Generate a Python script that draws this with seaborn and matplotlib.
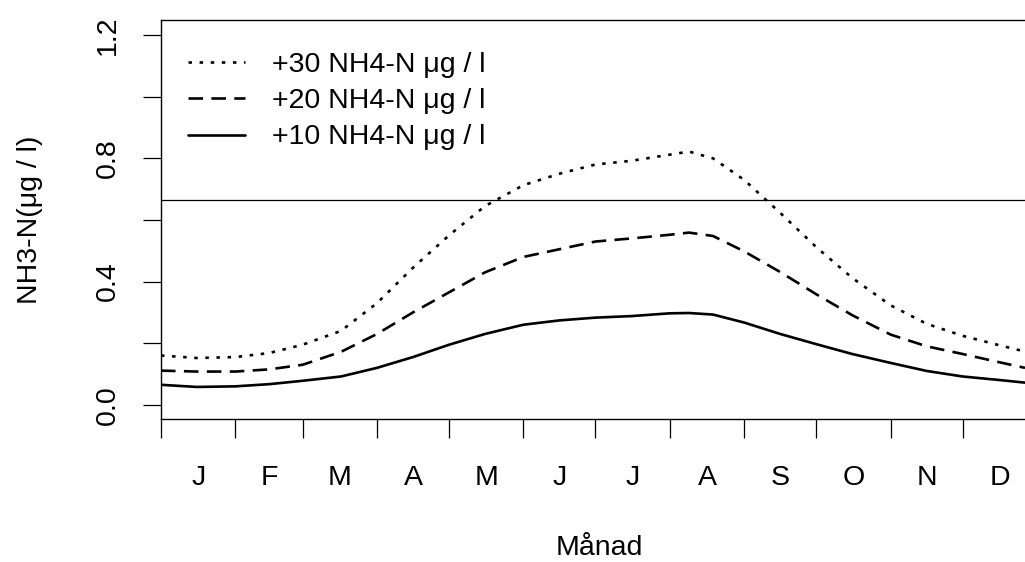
import matplotlib
matplotlib.use("Agg")
import matplotlib.pyplot as plt
import seaborn as sns
import pandas as pd

# Day of year for each sampled value
day = [0, 15, 31, 45, 59, 75, 90, 105, 120, 135, 151, 166, 181, 196,
       212, 220, 230, 243, 258, 273, 288, 304, 319, 334, 350, 360]

# Un-ionised ammonia (NH3-N, µg/l) for three added ammonium levels
nh3_plus30 = [0.160, 0.152, 0.155, 0.168, 0.195, 0.240, 0.330, 0.445, 0.550,
              0.645, 0.713, 0.750, 0.780, 0.792, 0.812, 0.822, 0.800, 0.730,
              0.623, 0.512, 0.412, 0.323, 0.263, 0.224, 0.192, 0.173]
nh3_plus20 = [0.111, 0.108, 0.108, 0.115, 0.130, 0.172, 0.230, 0.300, 0.365,
              0.430, 0.480, 0.505, 0.530, 0.540, 0.552, 0.559, 0.548, 0.498,
              0.431, 0.359, 0.291, 0.228, 0.190, 0.165, 0.137, 0.120]
nh3_plus10 = [0.065, 0.058, 0.060, 0.067, 0.078, 0.092, 0.120, 0.155, 0.195,
              0.230, 0.260, 0.274, 0.283, 0.288, 0.297, 0.298, 0.293, 0.267,
              0.230, 0.197, 0.165, 0.136, 0.110, 0.092, 0.080, 0.072]

series_labels = ["+30 NH4-N μg / l", "+20 NH4-N μg / l", "+10 NH4-N μg / l"]

month_starts = [0, 31, 59, 90, 120, 151, 181, 212, 243, 273, 304, 334, 365]
month_labels = ["J", "F", "M", "A", "M", "J", "J", "A", "S", "O", "N", "D"]

y_ticks = [0.0, 0.2, 0.4, 0.6, 0.8, 1.0, 1.2]
y_ticklabels = ["0.0", "", "0.4", "", "0.8", "", "1.2"]

limit_value = 0.665

FS = 20.5

sns.set_theme(style="ticks")
plt.rcParams["font.family"] = ["Liberation Sans", "DejaVu Sans"]
plt.rcParams["lines.scale_dashes"] = False
for key in ["text.color", "axes.labelcolor", "xtick.color", "ytick.color",
            "axes.edgecolor"]:
    plt.rcParams[key] = "black"

df = pd.DataFrame({
    "day": day * 3,
    "nh3": nh3_plus30 + nh3_plus20 + nh3_plus10,
    "serie": [series_labels[0]] * len(day) + [series_labels[1]] * len(day)
             + [series_labels[2]] * len(day),
})

fig = plt.figure(figsize=(10.25, 5.62), dpi=100)
ax = fig.add_axes([161 / 1025, (562 - 419) / 562, 876 / 1025, 399 / 562])

styles = {
    series_labels[0]: (0, (2.5, 5.5)),
    series_labels[1]: (0, (10.5, 6)),
    series_labels[2]: "-",
}
for name in series_labels:
    sub = df[df["serie"] == name]
    sns.lineplot(data=sub, x="day", y="nh3", ax=ax, color="black",
                 linewidth=1.9, linestyle=styles[name], label=name)

ax.axhline(limit_value, color="black", linewidth=0.9)

ax.set_xlim(0, 365)
ax.set_ylim(-0.046, 1.249)

# Month boundaries as ticks, month initials centred between them
ax.set_xticks(month_starts)
ax.set_xticklabels([""] * len(month_starts))
mids = [(a + b) / 2 for a, b in zip(month_starts[:-1], month_starts[1:])]
ax.set_xticks(mids, minor=True)
ax.set_xticklabels(month_labels, minor=True)
ax.tick_params(axis="x", which="major", length=13.5, width=0.9,
               direction="out", color="black")
ax.tick_params(axis="x", which="minor", length=0, pad=33, labelsize=FS)

ax.set_yticks(y_ticks)
ax.set_yticklabels(y_ticklabels, rotation=90, va="center")
ax.tick_params(axis="y", length=13, width=0.9, direction="out",
               color="black", pad=16, labelsize=FS)

for side in ["left", "top", "bottom", "right"]:
    ax.spines[side].set_linewidth(1.0)
    ax.spines[side].set_color("black")

ax.set_xlabel("Månad", fontsize=FS, labelpad=32)
ax.set_ylabel("NH3-N(μg / l)", fontsize=FS, labelpad=37)

ax.legend(loc="upper left", frameon=False, fontsize=FS,
          bbox_to_anchor=((188 - 161) / 876, 1 - 32 / 399),
          borderpad=0, borderaxespad=0, handlelength=2.0,
          handletextpad=0.95, labelspacing=0.36)

fig.savefig("out.png", dpi=100)
